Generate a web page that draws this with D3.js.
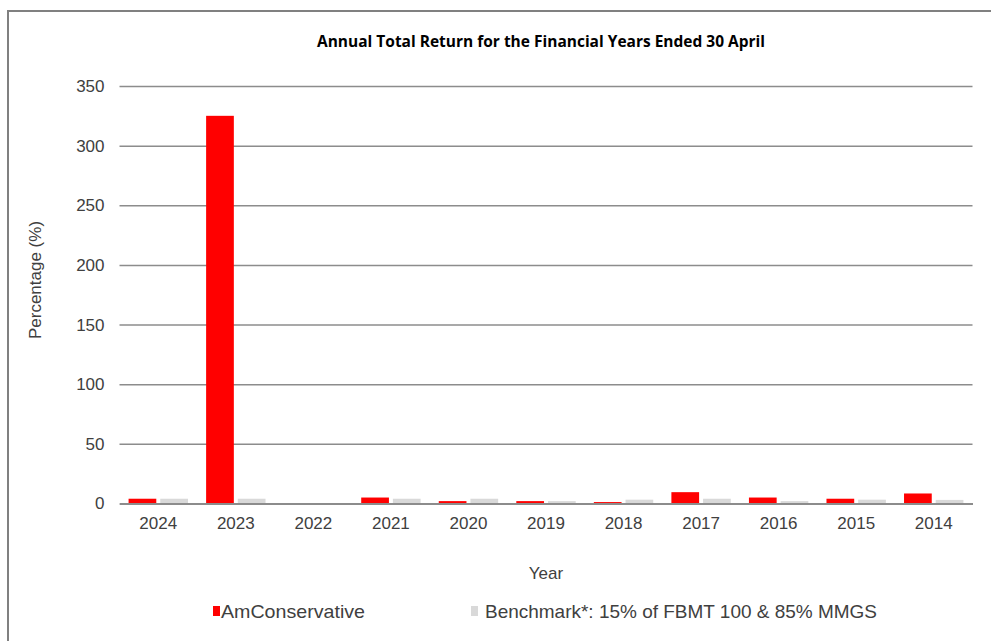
<!DOCTYPE html>
<html>
<head>
<meta charset="utf-8">
<script src="https://cdn.jsdelivr.net/npm/d3@7"></script>
<style>
    body { margin: 0; background: #ffffff; }
    svg { display: block; }
</style>
</head>
<body>
<div id="chart-container"></div>
<script>
// ANNUAL TOTAL RETURN CHART

// Data

var years = ["2024", "2023", "2022", "2021", "2020", "2019", "2018", "2017", "2016", "2015", "2014"];
var fundReturns = [4.0, 325.0, 0, 5.0, 2.0, 2.0, 1.2, 9.5, 5.0, 4.0, 8.4];
var benchReturns = [4.0, 4.0, 0, 4.0, 4.0, 2.0, 3.2, 4.0, 2.0, 3.2, 3.0];
var seriesNames = ["AmConservative", "Benchmark*: 15% of FBMT 100 & 85% MMGS"];
var seriesColours = ["#ff0000", "#d9d9d9"];
var yTicks = [0, 50, 100, 150, 200, 250, 300, 350];

// Chart variables

var svgWidth = 991;
var svgHeight = 641;
var margin = {top: 86, right: 18.5, bottom: 137.5, left: 119.5};
var width = svgWidth - margin.left - margin.right;
var height = svgHeight - margin.top - margin.bottom;

var textColour = "#404040";
var gridColour = "#8c8c8c";

var svg = d3.select("#chart-container")
            .append("svg")
            .attr("width", svgWidth)
            .attr("height", svgHeight);

// Outer border (only top and left edges are visible)

svg.append("rect")
    .attr("x", 8)
    .attr("y", 11)
    .attr("width", svgWidth + 20)
    .attr("height", svgHeight + 20)
    .attr("fill", "none")
    .attr("stroke", "#808080")
    .attr("stroke-width", 2);

var chart = svg.append("g")
               .attr("transform", "translate(" + margin.left + "," + margin.top + ")");

// Scales

var x0 = d3.scaleBand()
           .domain(years)
           .range([0, width])
           .paddingInner(0.234)
           .paddingOuter(0.117);

var x1 = d3.scaleBand()
           .domain(seriesNames)
           .range([0, x0.bandwidth()])
           .paddingInner(0.125);

var y = d3.scaleLinear()
          .domain([0, 350])
          .range([height, 0]);

// Gridlines and y labels

var yAxis = chart.append("g")
    .call(d3.axisLeft(y).tickValues(yTicks).tickSize(-width).tickPadding(15));

yAxis.select(".domain").remove();
yAxis.selectAll(".tick line")
    .attr("stroke", gridColour)
    .attr("stroke-width", 1.5);
yAxis.selectAll(".tick text")
    .attr("fill", textColour)
    .style("font-family", "'Liberation Sans', Arial, sans-serif")
    .style("font-size", "17px");

// Bars

var rows = years.map(function(yr, i) {
    return {year: yr, values: [fundReturns[i], benchReturns[i]]};
});

var groups = chart.selectAll(".year")
    .data(rows)
    .enter()
    .append("g")
    .attr("class", "year")
    .attr("transform", function(d) { return "translate(" + x0(d.year) + ",0)"; });

groups.selectAll("rect")
    .data(function(d) {
        return d.values.map(function(v, j) { return {name: seriesNames[j], value: v, colour: seriesColours[j]}; });
    })
    .enter()
    .append("rect")
    .attr("x", function(d) { return x1(d.name); })
    .attr("width", x1.bandwidth())
    .attr("y", function(d) { return y(d.value); })
    .attr("height", function(d) { return height - y(d.value); })
    .attr("fill", function(d) { return d.colour; });

// X axis

var xAxis = chart.append("g")
    .attr("transform", "translate(0," + height + ")")
    .call(d3.axisBottom(x0).tickSize(0).tickPadding(13));

xAxis.select(".domain")
    .attr("stroke", gridColour)
    .attr("stroke-width", 2);
xAxis.selectAll(".tick text")
    .attr("fill", textColour)
    .style("font-family", "'Liberation Sans', Arial, sans-serif")
    .style("font-size", "17px");

// Title

svg.append("text")
    .attr("x", 541)
    .attr("y", 47)
    .attr("text-anchor", "middle")
    .attr("fill", "#000000")
    .style("font-family", "'Open Sans', sans-serif")
    .style("font-weight", "bold")
    .style("font-size", "15.5px")
    .attr("textLength", 448)
    .attr("lengthAdjust", "spacingAndGlyphs")
    .text("Annual Total Return for the Financial Years Ended 30 April");

// Axis titles

svg.append("text")
    .attr("x", margin.left + width / 2)
    .attr("y", 579)
    .attr("text-anchor", "middle")
    .attr("fill", textColour)
    .style("font-family", "'Liberation Sans', Arial, sans-serif")
    .style("font-size", "17px")
    .text("Year");

svg.append("text")
    .attr("transform", "translate(41,280) rotate(-90)")
    .attr("text-anchor", "middle")
    .attr("fill", textColour)
    .style("font-family", "'Liberation Sans', Arial, sans-serif")
    .style("font-size", "17px")
    .text("Percentage (%)");

// Legend

var legendX = [213, 471];

var legend = svg.selectAll(".legend")
    .data(seriesNames)
    .enter()
    .append("g")
    .attr("class", "legend")
    .attr("transform", function(d, i) { return "translate(" + legendX[i] + ",611)"; });

legend.append("rect")
    .attr("x", 0)
    .attr("y", -5)
    .attr("width", 7)
    .attr("height", 10)
    .attr("fill", function(d, i) { return seriesColours[i]; });

legend.append("text")
    .attr("x", function(d, i) { return i === 0 ? 8 : 14; })
    .attr("y", 6.5)
    .attr("fill", textColour)
    .style("font-family", "'Liberation Sans', Arial, sans-serif")
    .style("font-size", "19px")
    .attr("textLength", function(d, i) { return i === 0 ? 144 : 392; })
    .attr("lengthAdjust", "spacingAndGlyphs")
    .text(function(d) { return d; });
</script>
</body>
</html>
